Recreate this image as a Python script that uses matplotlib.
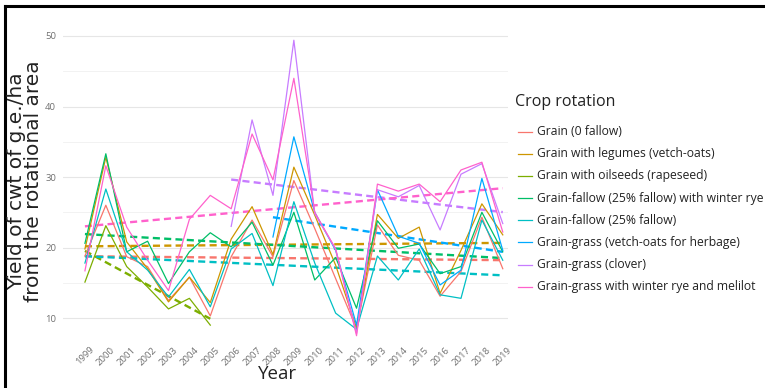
import numpy as np
import matplotlib
matplotlib.use("Agg")
import matplotlib.pyplot as plt
from matplotlib.lines import Line2D

plt.rcParams['font.family'] = ['Open Sans', 'DejaVu Sans']

years = list(range(1999, 2020))

grain_0 = [18.8, 26.0, 18.7, 17.3, 12.5, 15.8, 10.3, 18.7, 23.9, 18.7, 29.5,
           22.7, 15.6, 8.5, 23.2, 18.9, 18.2, 13.1, 16.6, 24.3, 17.0]
legumes = [19.8, 32.8, 20.8, 17.0, 12.3, 15.8, 12.2, 21.2, 25.8, 19.0, 31.4,
           24.6, 17.5, 8.6, 24.7, 21.3, 22.9, 13.5, 19.6, 26.2, 21.8]
oilseeds = [15.1, 23.1, 17.3, 14.4, 11.3, 12.8, 9.0]
fallow_rye = [20.6, 33.3, 19.4, 20.9, 14.9, 19.4, 22.1, 20.1, 23.6, 17.5, 25.0,
              15.4, 18.6, 11.4, 23.8, 19.9, 20.5, 16.3, 17.3, 25.0, 19.4]
fallow = [17.8, 28.3, 19.4, 16.8, 13.0, 16.9, 11.6, 19.8, 22.0, 14.6, 26.5,
          17.8, 10.7, 8.4, 18.8, 15.4, 19.8, 13.3, 12.8, 23.9, 18.2]
vetch_herbage = [21.5, 35.7, 25.0, 19.6, 9.0, 28.2, 21.6, 20.6, 14.7, 16.8, 29.8, 19.6]
clover = [23.0, 38.1, 27.4, 49.4, 24.8, 19.8, 7.8, 28.2, 27.2, 28.8, 22.5, 30.4, 31.9, 23.4]
melilot = [16.7, 31.6, 22.9, 18.2, 13.9, 24.0, 27.4, 25.5, 36.1, 29.6, 44.0,
           25.0, 19.8, 7.5, 29.0, 28.0, 29.0, 26.5, 31.0, 32.1, 22.2]

labels = ["Grain (0 fallow)",
          "Grain with legumes (vetch-oats)",
          "Grain with oilseeds (rapeseed)",
          "Grain-fallow (25% fallow) with winter rye",
          "Grain-fallow (25% fallow)",
          "Grain-grass (vetch-oats for herbage)",
          "Grain-grass (clover)",
          "Grain-grass with winter rye and melilot"]
series = [grain_0, legumes, oilseeds, fallow_rye, fallow, vetch_herbage, clover, melilot]
start_years = [1999, 1999, 1999, 1999, 1999, 2008, 2006, 1999]
colors = ["#F8766D", "#CD9600", "#7CAE00", "#00BE67", "#00BFC4", "#00A9FF", "#C77CFF", "#FF61CC"]

W, H = 765, 388
fig = plt.figure(figsize=(W / 100, H / 100), dpi=100)
ax_l, ax_r, ax_t, ax_b = 63, 508, 24, 341
ax = fig.add_axes([ax_l / W, 1 - ax_b / H, (ax_r - ax_l) / W, (ax_b - ax_t) / H])

for vals, y0, c in zip(series, start_years, colors):
    x = np.arange(y0, y0 + len(vals))
    ax.plot(x, vals, color=c, lw=0.9, zorder=3)
    # linear trend, like geom_smooth(method="lm")
    k, b = np.polyfit(x, vals, 1)
    ax.plot(x, k * x + b, color=c, lw=1.7, dashes=(3, 1.8), zorder=2)

ax.set_xlim(1997.95, 2019.25)
ax.set_ylim(6.75, 51.7)
ax.set_yticks([10, 20, 30, 40, 50])
ax.set_yticks([15, 25, 35, 45], minor=True)
ax.set_xticks(years)
ax.set_xticklabels([str(y) for y in years], rotation=45, ha='center')
ax.grid(True, axis='y', which='major', color='#e6e6e6', lw=0.8)
ax.grid(True, axis='y', which='minor', color='#f0f0f0', lw=0.6)
ax.set_axisbelow(True)
for s in ax.spines.values():
    s.set_visible(False)
ax.tick_params(axis='both', which='both', length=0, labelsize=6.8, labelcolor='#707070')
ax.tick_params(axis='x', pad=3)
ax.tick_params(axis='y', pad=5)

fig.text(278 / W, 1 - 374 / H, "Year", ha='center', va='center', fontsize=13.5, color='#222222')
fig.text(25 / W, 1 - 181 / H, "Yield of cwt of g.e./ha\nfrom the rotational area",
         ha='center', va='center', rotation=90, fontsize=14.5, color='#222222',
         linespacing=0.9, family=['DejaVu Sans'])

# legend drawn by hand so the rows sit where the original has them
fig.text(515 / W, 1 - 102 / H, "Crop rotation", ha='left', va='center',
         fontsize=11.5, color='#222222')
for i, (lab, c) in enumerate(zip(labels, colors)):
    yy = 1 - (131.7 + i * 22.15) / H
    fig.add_artist(Line2D([518 / W, 532 / W], [yy, yy], color=c, lw=0.9))
    fig.text(537 / W, yy, lab, ha='left', va='center', fontsize=8.7, color='#222222')

# frame lines of the original screenshot
fig.add_artist(Line2D([5 / W, 1], [1 - 6 / H, 1 - 6 / H], color='black', lw=2.2))
fig.add_artist(Line2D([5 / W, 5 / W], [0, 1 - 6 / H], color='black', lw=2.2))

fig.savefig("out.png", dpi=100)
